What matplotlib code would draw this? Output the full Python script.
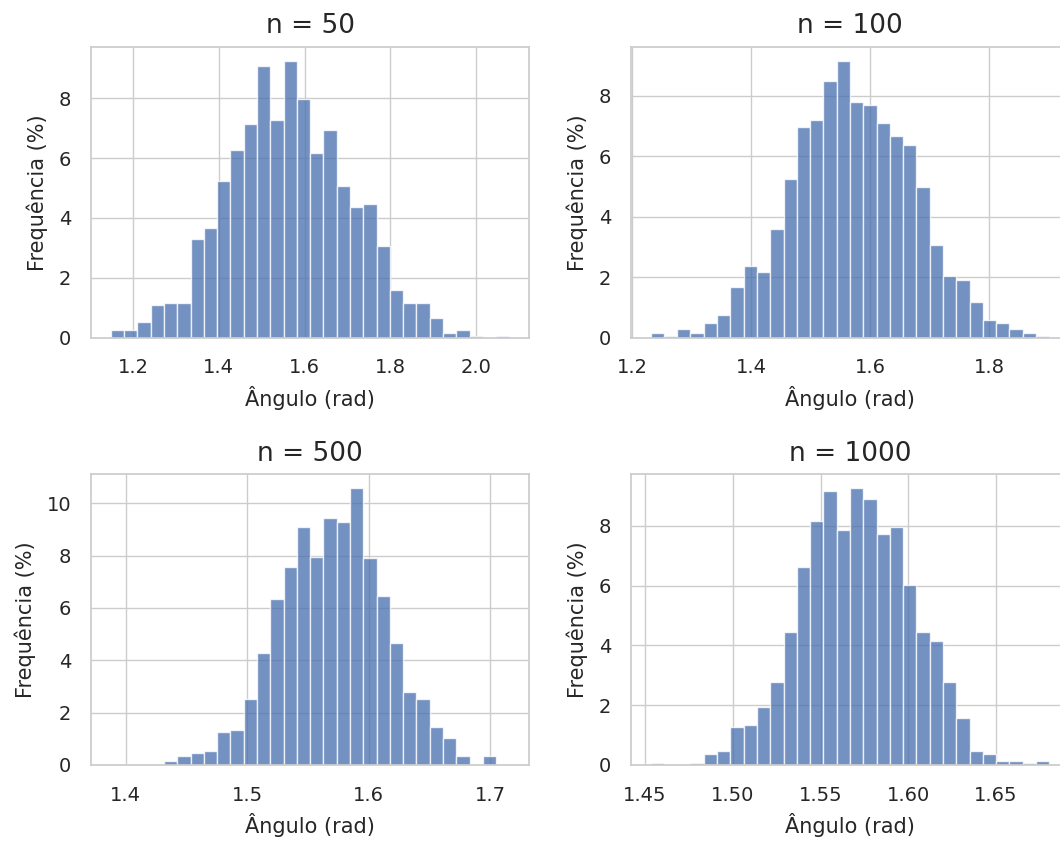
import numpy as np
import matplotlib
matplotlib.use("Agg")
import matplotlib.pyplot as plt
import seaborn as sns

# bar heights (% of samples), 30 bins per panel
freq_50 = [0.26, 0.26, 0.53, 1.09, 1.15, 1.15, 3.29, 3.65, 5.24, 6.28,
           7.15, 9.07, 7.26, 9.24, 7.97, 6.16, 6.94, 5.08, 4.37, 4.48,
           3.05, 1.59, 1.15, 1.15, 0.66, 0.17, 0.27, 0.07, 0.0, 0.07]
freq_100 = [0.17, 0.06, 0.27, 0.17, 0.49, 0.76, 1.68, 2.38, 2.16, 3.58,
            5.24, 6.98, 7.20, 8.50, 9.15, 7.79, 7.68, 7.09, 6.66, 6.38,
            4.98, 3.08, 2.05, 1.90, 1.18, 0.60, 0.49, 0.27, 0.17, 0.06]
freq_500 = [0.01, 0.0, 0.0, 0.0, 0.15, 0.34, 0.46, 0.52, 1.27, 1.34,
            2.52, 4.27, 6.33, 7.58, 9.08, 7.96, 9.45, 9.27, 10.57, 7.90,
            6.46, 4.65, 2.78, 2.52, 1.46, 1.03, 0.34, 0.0, 0.34, 0.02]
freq_1000 = [0.08, 0.0, 0.0, 0.08, 0.36, 0.46, 1.28, 1.34, 1.94, 2.77,
             4.45, 6.64, 8.18, 9.16, 7.85, 9.26, 8.89, 7.73, 7.96, 6.04,
             4.45, 4.16, 2.77, 1.56, 0.46, 0.36, 0.13, 0.13, 0.08, 0.13]

# histogram ranges (rad)
range_50 = (1.148, 2.078)
range_100 = (1.2307, 1.9007)
range_500 = (1.3876, 1.7159)
range_1000 = (1.4532, 1.6803)

titles = ["n = 50", "n = 100", "n = 500", "n = 1000"]

sns.set_theme(style="whitegrid")
plt.rcParams['font.family'] = ['DejaVu Sans']

fig = plt.figure(figsize=(10.6, 8.41), dpi=100)

# axes placed to match the (cropped) original layout
boxes = [
    [0.0857, 0.5985, 0.4137, 0.3454],
    [0.5950, 0.5985, 0.4137, 0.3454],
    [0.0857, 0.0904, 0.4137, 0.3454],
    [0.5950, 0.0904, 0.4137, 0.3454],
]

all_freqs = [freq_50, freq_100, freq_500, freq_1000]
all_ranges = [range_50, range_100, range_500, range_1000]

for box, freqs, rng, title in zip(boxes, all_freqs, all_ranges, titles):
    ax = fig.add_axes(box)
    edges = np.linspace(rng[0], rng[1], len(freqs) + 1)
    ax.bar(edges[:-1], freqs, width=np.diff(edges), align="edge",
           color="#4C72B0", alpha=0.78, edgecolor="white", linewidth=1)
    ax.set_title(title, fontsize=19, pad=10)
    ax.set_xlabel("Ângulo (rad)", fontsize=15, labelpad=6)
    ax.set_ylabel("Frequência (%)", fontsize=15, labelpad=8)
    ax.tick_params(axis="x", labelsize=14, length=0, pad=15)
    ax.tick_params(axis="y", labelsize=14, length=0, pad=14)
    ax.grid(True, color="#cccccc", linewidth=1)
    for sp in ax.spines.values():
        sp.set_color("#cccccc")

fig.savefig("out.png", dpi=100)
